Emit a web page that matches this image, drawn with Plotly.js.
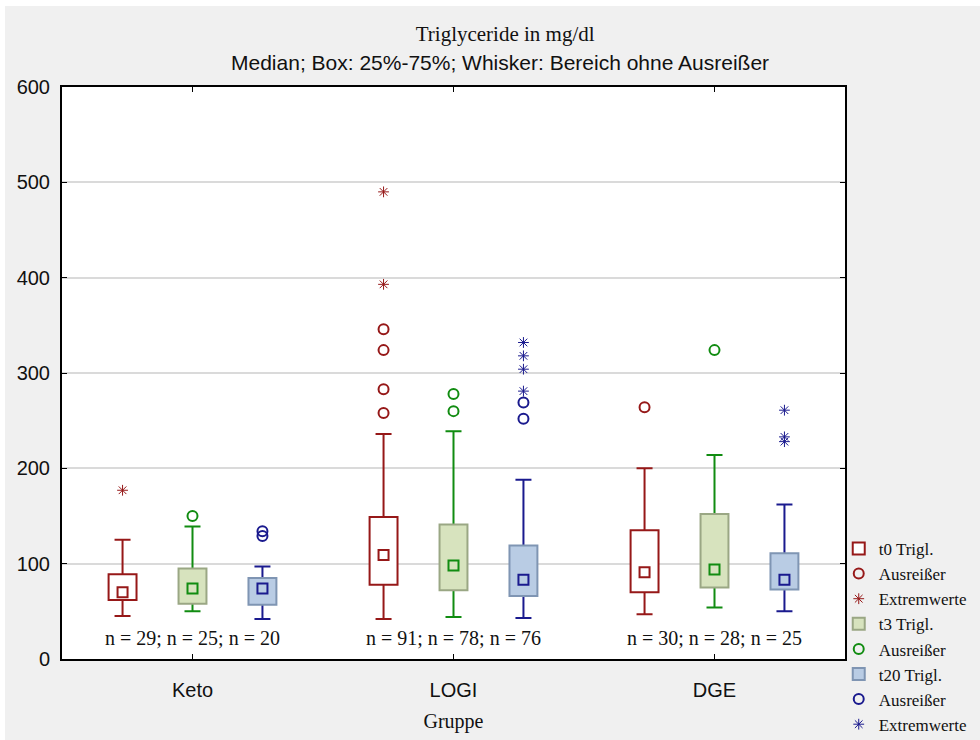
<!DOCTYPE html>
<html>
<head>
<meta charset="utf-8">
<script src="https://cdn.plot.ly/plotly-3.0.1.min.js"></script>
<style>
  html, body { margin: 0; padding: 0; background: #ffffff; }
  #chart { position: absolute; left: 5px; top: 6px; width: 975px; height: 734px; }
</style>
</head>
<body>
<div id="chart"></div>
<script>
// ---------------- data ----------------
const groups = ['Keto', 'LOGI', 'DGE'];
const nT0 = [29, 91, 30];
const nT3 = [25, 78, 28];
const nT20 = [20, 76, 25];

// t0 Trigl.
const t0Q1 = [62, 78, 70];
const t0Median = [70, 109, 91];
const t0Q3 = [89, 149, 135];
const t0Low = [45, 42, 47];
const t0High = [125, 236, 200];
const t0OutGroup = ['LOGI', 'LOGI', 'LOGI', 'LOGI', 'DGE'];
const t0OutVal = [346, 324, 283, 258, 264];
const t0ExtGroup = ['Keto', 'LOGI', 'LOGI'];
const t0ExtVal = [177, 490, 393];

// t3 Trigl.
const t3Q1 = [58, 72, 75];
const t3Median = [74, 98, 94];
const t3Q3 = [95, 141, 152];
const t3Low = [50, 44, 54];
const t3High = [139, 239, 214];
const t3OutGroup = ['Keto', 'LOGI', 'LOGI', 'DGE'];
const t3OutVal = [150, 278, 260, 324];

// t20 Trigl.
const t20Q1 = [57, 66, 73];
const t20Median = [74, 83, 83];
const t20Q3 = [85, 119, 111];
const t20Low = [42, 43, 50];
const t20High = [97, 188, 162];
const t20OutGroup = ['Keto', 'Keto', 'LOGI', 'LOGI'];
const t20OutVal = [134, 129, 269, 252];
const t20ExtGroup = ['LOGI', 'LOGI', 'LOGI', 'LOGI', 'DGE', 'DGE', 'DGE'];
const t20ExtVal = [332, 318, 304, 281, 261, 233, 228];

// ---------------- styling ----------------
const OFFSET = 0.268;   // horizontal offset of each series inside a group
const BOXW = 0.107;     // box width in axis units
const SERIF = 'Liberation Serif, Times New Roman, serif';
const SANS = 'Liberation Sans, Arial, sans-serif';

const red = '#961818';
const green = '#118c11';
const greenFill = '#d7e3be';
const greenEdge = '#9aa784';
const blue = '#1a1a8e';
const blueFill = '#b9cce4';
const blueEdge = '#7f95b3';

function gx(groupName, k) { return groups.indexOf(groupName) + (k - 1) * OFFSET; }
function posArr(k) { return groups.map((g, i) => i + (k - 1) * OFFSET); }

// whiskers (base subplot, drawn below the boxes)
function whiskerTrace(k, q1, lo, hi, color) {
  return {
    type: 'scatter', mode: 'markers', x: posArr(k), y: q1,
    xaxis: 'x', yaxis: 'y', showlegend: false, hoverinfo: 'skip',
    marker: { size: 1, opacity: 0 },
    error_y: { type: 'data', symmetric: false,
               array: hi.map((h, i) => h - q1[i]),
               arrayminus: lo.map((l, i) => q1[i] - l),
               color: color, thickness: 2, width: 8 }
  };
}
// boxes (overlay subplot, drawn above the whiskers)
function boxTrace(k, q1, q3, fill, edge, name, rank) {
  return {
    type: 'bar', x: posArr(k), base: q1, y: q3.map((v, i) => v - q1[i]),
    width: BOXW, xaxis: 'x2', yaxis: 'y2', name: name, legendrank: rank,
    marker: { color: fill, line: { color: edge, width: 2 } }, hoverinfo: 'skip'
  };
}
function medianTrace(k, med, color) {
  return {
    type: 'scatter', mode: 'markers', x: posArr(k), y: med, showlegend: false,
    xaxis: 'x2', yaxis: 'y2',
    marker: { symbol: 'square-open', size: 10, color: color, line: { width: 2, color: color } },
    hoverinfo: 'skip'
  };
}
function pointTrace(k, grp, vals, sym, color, name, rank) {
  const isStar = sym.indexOf('asterisk') === 0;
  return {
    type: 'scatter', mode: 'markers', x: grp.map(g => gx(g, k)), y: vals, name: name,
    xaxis: 'x2', yaxis: 'y2',
    marker: { symbol: sym, size: isStar ? 9 : 10, color: color,
              line: { width: isStar ? 1 : 2, color: color } },
    legendrank: rank, hoverinfo: 'skip'
  };
}

const traces = [
  whiskerTrace(0, t0Q1, t0Low, t0High, red),
  whiskerTrace(1, t3Q1, t3Low, t3High, green),
  whiskerTrace(2, t20Q1, t20Low, t20High, blue),
  boxTrace(0, t0Q1, t0Q3, '#ffffff', red, 't0 Trigl.', 1),
  boxTrace(1, t3Q1, t3Q3, greenFill, greenEdge, 't3 Trigl.', 4),
  boxTrace(2, t20Q1, t20Q3, blueFill, blueEdge, 't20 Trigl.', 6),
  medianTrace(0, t0Median, red),
  medianTrace(1, t3Median, green),
  medianTrace(2, t20Median, blue),
  pointTrace(0, t0OutGroup, t0OutVal, 'circle-open', red, 'Ausreißer', 2),
  pointTrace(0, t0ExtGroup, t0ExtVal, 'asterisk-open', red, 'Extremwerte', 3),
  pointTrace(1, t3OutGroup, t3OutVal, 'circle-open', green, 'Ausreißer', 5),
  pointTrace(2, t20OutGroup, t20OutVal, 'circle-open', blue, 'Ausreißer', 7),
  pointTrace(2, t20ExtGroup, t20ExtVal, 'asterisk-open', blue, 'Extremwerte', 8)
];

const nLabels = groups.map((g, i) => ({
  x: i, y: 22, xref: 'x', yref: 'y', showarrow: false,
  text: 'n = ' + nT0[i] + '; n = ' + nT3[i] + '; n = ' + nT20[i],
  font: { family: SERIF, size: 20, color: '#111' }, yanchor: 'middle'
}));

const XR = [-0.5, 2.5];
const YR = [0, 600];

const layout = {
  width: 975, height: 734,
  paper_bgcolor: '#f0f0f0', plot_bgcolor: '#ffffff',
  margin: { l: 57, r: 135, t: 81, b: 81, autoexpand: false },
  title: { text: 'Triglyceride in mg/dl', x: 0.513, xref: 'container', y: 0.963, yref: 'container',
           xanchor: 'center', yanchor: 'middle',
           font: { family: SERIF, size: 21, color: '#111' } },
  showlegend: true,
  barmode: 'overlay',
  xaxis: {
    range: XR, tickvals: [0, 1, 2], ticktext: groups,
    showline: true, linecolor: '#000', linewidth: 2, mirror: 'ticks',
    ticks: 'inside', ticklen: 5, tickcolor: '#000', tickwidth: 1,
    showgrid: false, zeroline: false, ticklabelstandoff: 12,
    tickfont: { family: SANS, size: 20, color: '#111' },
    title: { text: 'Gruppe', font: { family: SERIF, size: 20, color: '#111' }, standoff: 14 }
  },
  yaxis: {
    range: YR, dtick: 100,
    showline: true, linecolor: '#000', linewidth: 2, mirror: 'ticks',
    ticks: 'inside', ticklen: 5, tickcolor: '#000', tickwidth: 1,
    showgrid: true, gridcolor: '#dadada', gridwidth: 2, zeroline: false,
    ticklabelstandoff: 6,
    tickfont: { family: SANS, size: 20, color: '#111' }
  },
  xaxis2: { overlaying: 'x', range: XR, visible: false },
  yaxis2: { overlaying: 'y', range: YR, visible: false },
  legend: {
    x: 0.992, xanchor: 'left', y: -0.145, yanchor: 'bottom',
    bgcolor: 'rgba(0,0,0,0)', font: { family: SERIF, size: 17, color: '#111' },
    itemwidth: 30, traceorder: 'normal', tracegroupgap: 0
  },
  annotations: [
    { text: 'Median; Box: 25%-75%; Whisker: Bereich ohne Ausreißer', xref: 'paper', yref: 'paper',
      x: 0.559, y: 1.042, xanchor: 'center', yanchor: 'middle', showarrow: false,
      font: { family: SANS, size: 21, color: '#111' } }
  ].concat(nLabels)
};

Plotly.newPlot('chart', traces, layout, { displayModeBar: false, staticPlot: true });
</script>
</body>
</html>
